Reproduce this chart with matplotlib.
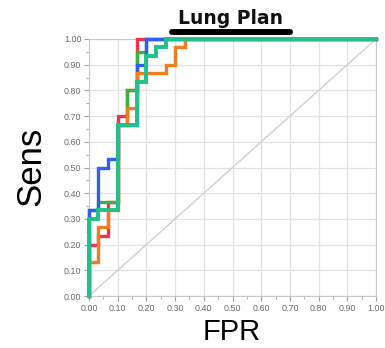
import matplotlib
matplotlib.use("Agg")
import matplotlib.pyplot as plt
import numpy as np

# ROC step curves (false positive rate, sensitivity)
fpr_red = [0, 0, 0.033, 0.033, 0.067, 0.067, 0.1, 0.1, 0.133, 0.133, 0.167, 0.167, 1.0]
sens_red = [0, 0.2, 0.2, 0.233, 0.233, 0.367, 0.367, 0.7, 0.7, 0.8, 0.8, 1.0, 1.0]

fpr_green = [0, 0, 0.033, 0.033, 0.1, 0.1, 0.133, 0.133, 0.167, 0.167, 0.2, 0.2, 1.0]
sens_green = [0, 0.333, 0.333, 0.367, 0.367, 0.667, 0.667, 0.8, 0.8, 0.95, 0.95, 1.0, 1.0]

fpr_blue = [0, 0, 0.033, 0.033, 0.067, 0.067, 0.1, 0.1, 0.167, 0.167, 0.2, 0.2, 1.0]
sens_blue = [0, 0.333, 0.333, 0.5, 0.5, 0.533, 0.533, 0.667, 0.667, 0.9, 0.9, 1.0, 1.0]

fpr_orange = [0, 0, 0.033, 0.033, 0.067, 0.067, 0.1, 0.1, 0.133, 0.133, 0.167, 0.167,
              0.267, 0.267, 0.3, 0.3, 0.333, 0.333, 1.0]
sens_orange = [0, 0.133, 0.133, 0.267, 0.267, 0.333, 0.333, 0.667, 0.667, 0.733, 0.733, 0.867,
               0.867, 0.9, 0.9, 0.967, 0.967, 1.0, 1.0]

fpr_teal = [0, 0, 0.033, 0.033, 0.1, 0.1, 0.167, 0.167, 0.2, 0.2, 0.233, 0.233, 0.267, 0.267, 1.0]
sens_teal = [0, 0.3, 0.3, 0.333, 0.333, 0.667, 0.667, 0.833, 0.833, 0.933, 0.933, 0.967, 0.967, 1.0, 1.0]

ticks = np.round(np.arange(0, 1.01, 0.1), 2)
tick_labels = [f"{t:.2f}" for t in ticks]

fig = plt.figure(figsize=(3.85, 3.48), dpi=100)
ax = fig.add_axes([89 / 385, 1 - 296 / 348, 287 / 385, 257 / 348])

ax.set_xlim(0, 1)
ax.set_ylim(0, 1)

# chance line
ax.plot([0, 1], [0, 1], color="#d0d0d0", lw=1.0, zorder=1)

curves = [
    (fpr_red, sens_red, "#f2334f", 2.4),
    (fpr_green, sens_green, "#3cb33c", 2.4),
    (fpr_blue, sens_blue, "#2f5ff0", 2.4),
    (fpr_orange, sens_orange, "#f07d1e", 2.4),
    (fpr_teal, sens_teal, "#20c08c", 2.8),
]
for i, (x, y, c, w) in enumerate(curves):
    ax.plot(x, y, color=c, lw=w, solid_joinstyle="miter", clip_on=False, zorder=3 + i)

ax.set_xticks(ticks)
ax.set_yticks(ticks)
ax.set_xticklabels(tick_labels)
ax.set_yticklabels(tick_labels)
ax.set_xticks(np.arange(0.05, 1, 0.1), minor=True)
ax.set_yticks(np.arange(0.05, 1, 0.1), minor=True)
ax.tick_params(which="major", length=3.5, width=0.8, color="#a0a0a0",
               labelsize=6.4, labelcolor="#6a6a6a", pad=2)
ax.tick_params(which="minor", length=2, width=0.8, color="#b0b0b0")
for lab in ax.get_xticklabels() + ax.get_yticklabels():
    lab.set_family("Liberation Sans")

ax.grid(True, which="major", color="#e3e3e3", lw=0.9)
ax.set_axisbelow(True)
for s in ax.spines.values():
    s.set_color("#c8c8c8")
    s.set_linewidth(0.8)

# axis titles
fig.text(232 / 385, 1 - 340 / 348, "FPR", ha="center", va="baseline",
         fontsize=21, family="Liberation Sans", color="black")
fig.text(31 / 385, 1 - 166 / 348, "Sens", ha="center", va="center", rotation=90,
         fontsize=25, family="Liberation Sans", color="black")

# title with underline bar
fig.text(231 / 385, 1 - 18 / 348, "Lung Plan", ha="center", va="center",
         fontsize=13.5, fontweight="bold", family="DejaVu Sans", color="#101010")
fig.add_artist(plt.Line2D([172 / 385, 290 / 385], [1 - 31.5 / 348, 1 - 31.5 / 348],
                          color="black", lw=4.3, solid_capstyle="round",
                          transform=fig.transFigure))

fig.savefig("out.png", dpi=100)
